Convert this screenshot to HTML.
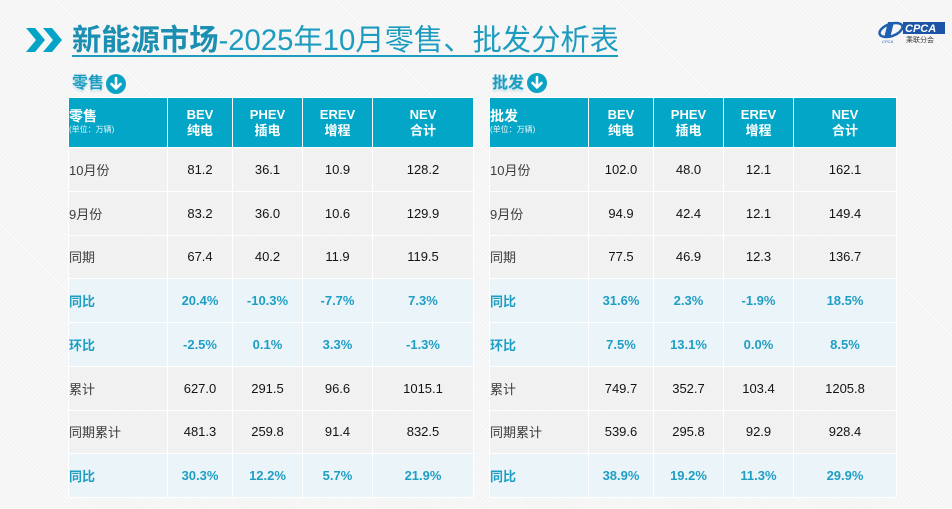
<!DOCTYPE html>
<html><head><meta charset="utf-8">
<style>
*{margin:0;padding:0;box-sizing:border-box}
body{width:952px;height:509px;overflow:hidden;position:relative;
background:#f4f4f4;
background-image:repeating-linear-gradient(45deg,rgba(255,255,255,0.55) 0 1px,rgba(0,0,0,0) 1px 3px);
font-family:"Liberation Sans","Noto Sans CJK SC",sans-serif;}
.title{position:absolute;left:72px;top:24px;font-size:29.3px;line-height:34px;color:#1d9cbf;white-space:nowrap;letter-spacing:0}
.title b{font-weight:bold;color:#1a8fb1}
.uline{position:absolute;left:72px;top:55px;width:546px;height:2px;background:#1d9cbf}
.sub{position:absolute;top:74px;font-size:16px;font-weight:bold;color:#1b9cc1;line-height:20px;text-shadow:0 2px 2px rgba(27,156,193,0.25)}
.ic{position:absolute;width:20px;height:20px;border-radius:50%;background:#0aa3c6}
.ic svg{position:absolute;left:0;top:0}
table{position:absolute;top:97px;border-collapse:collapse;table-layout:fixed}
td,th{border:1px solid #fff;text-align:center;vertical-align:middle;font-size:13px;color:#141414;font-weight:normal;padding:0}
th{background:#03a6c6;color:#fff;height:50px;font-weight:bold;line-height:16px}
th.f{text-align:left;font-size:14px;line-height:15px}
th.f span{display:block;font-size:8px;font-weight:normal;line-height:12px;opacity:.9}
td{height:43.75px;background:rgba(240,240,240,0.85)}
td.f{text-align:left;color:#3c3c3c}
tr.h td{background:#ebf5f9;color:#1f9ec4;font-weight:bold}
tr.h td.f{color:#1f9ec4}
</style></head><body>

<svg style="position:absolute;left:26px;top:28px" width="40" height="24" viewBox="0 0 40 24">
<polygon points="0,0 9,0 19,12 9,24 0,24 10,12" fill="#05a3c6"/>
<polygon points="17,0 26,0 36,12 26,24 17,24 27,12" fill="#05a3c6"/>
</svg>
<div class="title"><b>新能源市场</b>-2025年10月零售、批发分析表</div>
<div class="uline"></div>

<svg style="position:absolute;left:878px;top:18px" width="70" height="28" viewBox="0 0 70 28">
<ellipse cx="13" cy="12" rx="12" ry="6" fill="none" stroke="#1f5fb0" stroke-width="2.5" transform="rotate(-20 13 12)"/>
<path d="M10 4 L16 4 L12 20 L6 20 Z" fill="#1f5fb0"/>
<text x="4" y="25" font-size="4" fill="#1f5fb0" font-family="Liberation Sans" font-style="italic">CPCA</text>
<rect x="25" y="4" width="42" height="12" fill="#1c55a6"/>
<text x="27" y="14" font-size="11" font-weight="bold" font-style="italic" fill="#fff" font-family="Liberation Sans">CPCA</text>
<text x="28" y="24" font-size="7" fill="#333" font-family="Noto Sans CJK SC">乘联分会</text>
</svg>

<div class="sub" style="left:72px">零售</div>
<div class="ic" style="left:106px;top:74px"><svg width="20" height="20" viewBox="0 0 20 20"><path d="M10 4 V14 M5.5 10 L10 14.5 L14.5 10" stroke="#fff" stroke-width="2.6" fill="none" stroke-linecap="round" stroke-linejoin="round"/></svg></div>

<div class="sub" style="left:492px">批发</div>
<div class="ic" style="left:527px;top:73px"><svg width="20" height="20" viewBox="0 0 20 20"><path d="M10 4 V14 M5.5 10 L10 14.5 L14.5 10" stroke="#fff" stroke-width="2.6" fill="none" stroke-linecap="round" stroke-linejoin="round"/></svg></div>

<table style="left:68px;width:405px">
<colgroup><col style="width:99px"><col style="width:65px"><col style="width:70px"><col style="width:70px"><col style="width:101px"></colgroup>
<tr><th class="f">零售<span>(单位：万辆)</span></th><th>BEV<br>纯电</th><th>PHEV<br>插电</th><th>EREV<br>增程</th><th>NEV<br>合计</th></tr>
<tr><td class="f">10月份</td><td>81.2</td><td>36.1</td><td>10.9</td><td>128.2</td></tr>
<tr><td class="f">9月份</td><td>83.2</td><td>36.0</td><td>10.6</td><td>129.9</td></tr>
<tr><td class="f">同期</td><td>67.4</td><td>40.2</td><td>11.9</td><td>119.5</td></tr>
<tr class="h"><td class="f">同比</td><td>20.4%</td><td>-10.3%</td><td>-7.7%</td><td>7.3%</td></tr>
<tr class="h"><td class="f">环比</td><td>-2.5%</td><td>0.1%</td><td>3.3%</td><td>-1.3%</td></tr>
<tr><td class="f">累计</td><td>627.0</td><td>291.5</td><td>96.6</td><td>1015.1</td></tr>
<tr><td class="f">同期累计</td><td>481.3</td><td>259.8</td><td>91.4</td><td>832.5</td></tr>
<tr class="h"><td class="f">同比</td><td>30.3%</td><td>12.2%</td><td>5.7%</td><td>21.9%</td></tr>
</table>

<table style="left:489px;width:407px">
<colgroup><col style="width:99px"><col style="width:65px"><col style="width:70px"><col style="width:70px"><col style="width:103px"></colgroup>
<tr><th class="f">批发<span>(单位：万辆)</span></th><th>BEV<br>纯电</th><th>PHEV<br>插电</th><th>EREV<br>增程</th><th>NEV<br>合计</th></tr>
<tr><td class="f">10月份</td><td>102.0</td><td>48.0</td><td>12.1</td><td>162.1</td></tr>
<tr><td class="f">9月份</td><td>94.9</td><td>42.4</td><td>12.1</td><td>149.4</td></tr>
<tr><td class="f">同期</td><td>77.5</td><td>46.9</td><td>12.3</td><td>136.7</td></tr>
<tr class="h"><td class="f">同比</td><td>31.6%</td><td>2.3%</td><td>-1.9%</td><td>18.5%</td></tr>
<tr class="h"><td class="f">环比</td><td>7.5%</td><td>13.1%</td><td>0.0%</td><td>8.5%</td></tr>
<tr><td class="f">累计</td><td>749.7</td><td>352.7</td><td>103.4</td><td>1205.8</td></tr>
<tr><td class="f">同期累计</td><td>539.6</td><td>295.8</td><td>92.9</td><td>928.4</td></tr>
<tr class="h"><td class="f">同比</td><td>38.9%</td><td>19.2%</td><td>11.3%</td><td>29.9%</td></tr>
</table>
</body></html>
